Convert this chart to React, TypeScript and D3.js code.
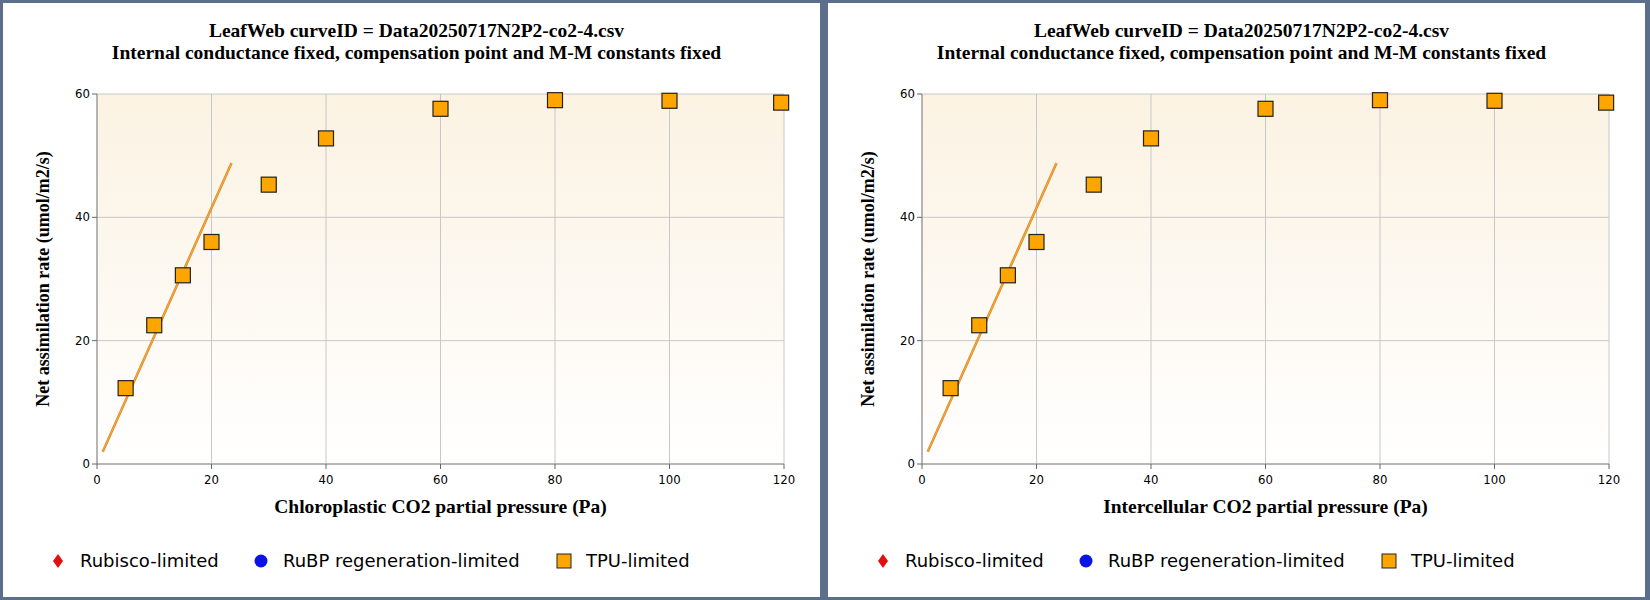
import React from 'react';
import * as d3 from 'd3';

const xValues = [5, 10, 15, 20, 30, 40, 60, 80, 100, 119.5];
const yValues = [12.3, 22.5, 30.6, 36.0, 45.3, 52.8, 57.6, 59.0, 58.9, 58.6];
const lineX = [1, 23.5];
const lineY = [2, 48.8];
const xTicks = [0, 20, 40, 60, 80, 100, 120];
const yTicks = [0, 20, 40, 60];
const xTitles = ['Chloroplastic CO2 partial pressure (Pa)', 'Intercellular CO2 partial pressure (Pa)'];
const titleLines = ['LeafWeb curveID = Data20250717N2P2-co2-4.csv', 'Internal conductance fixed, compensation point and M-M constants fixed'];
const legendItems = ['Rubisco-limited', 'RuBP regeneration-limited', 'TPU-limited'];

const W = 1650, H = 600;
const panelW = 823;
const margin = { left: 97, right: 39, top: 94, bottom: 136 };

const Panel: React.FC<{ idx: number }> = ({ idx }) => {
  const ox = idx === 0 ? 0 : 825;
  const x = d3.scaleLinear().domain([0, 120]).range([margin.left, panelW - margin.right]);
  const y = d3.scaleLinear().domain([0, 60]).range([H - margin.bottom, margin.top]);
  const [x0, x1] = x.range();
  const [y0, y1] = y.range();
  const gid = `bg${idx}`;
  const line = d3.line<number>().x((_, i) => x(lineX[i])).y((_, i) => y(lineY[i]));
  const tickFont = '"Liberation Sans Narrow", "Arial Narrow", "DejaVu Sans Condensed", sans-serif';
  const legendX = [58, 261, 564];
  return (
    <g transform={`translate(${ox},0)`}>
      <defs>
        <linearGradient id={gid} x1="0" y1="0" x2="0" y2="1">
          <stop offset="0" stopColor="#fbf2e2" />
          <stop offset="1" stopColor="#ffffff" />
        </linearGradient>
      </defs>
      <rect x={1.5} y={1.5} width={panelW - 3} height={H - 3} fill="#fff" stroke="#5b6e8a" strokeWidth={3} />
      {titleLines.map((t, i) => (
        <text key={i} x={panelW / 2 + 5} y={37 + i * 22} textAnchor="middle" fontFamily="Liberation Serif, serif" fontWeight="bold" fontSize={19.5}>{t}</text>
      ))}
      <rect x={x0} y={y1} width={x1 - x0} height={y0 - y1} fill={`url(#${gid})`} />
      {xTicks.map(t => (
        <line key={'gx' + t} x1={x(t)} x2={x(t)} y1={y1} y2={y0} stroke="#c8c8c8" strokeWidth={1} />
      ))}
      {yTicks.map(t => (
        <line key={'gy' + t} x1={x0} x2={x1} y1={y(t)} y2={y(t)} stroke="#c8c8c8" strokeWidth={1} />
      ))}
      <line x1={x0} x2={x1} y1={y0} y2={y0} stroke="#888" />
      <line x1={x0} x2={x0} y1={y1} y2={y0} stroke="#888" />
      {xTicks.map(t => (
        <g key={'tx' + t}>
          <line x1={x(t)} x2={x(t)} y1={y0} y2={y0 + 5} stroke="#666" />
          <text x={x(t)} y={y0 + 20} textAnchor="middle" fontFamily={tickFont} fontSize={13}>{t}</text>
        </g>
      ))}
      {yTicks.map(t => (
        <g key={'ty' + t}>
          <line x1={x0 - 5} x2={x0} y1={y(t)} y2={y(t)} stroke="#666" />
          <text x={x0 - 7} y={y(t) + 4} textAnchor="end" fontFamily={tickFont} fontSize={13}>{t}</text>
        </g>
      ))}
      <text x={(x0 + x1) / 2} y={y0 + 49} textAnchor="middle" fontFamily="Liberation Serif, serif" fontWeight="bold" fontSize={19.5}>{xTitles[idx]}</text>
      <text transform={`translate(49,${(y0 + y1) / 2}) rotate(-90)`} textAnchor="middle" fontFamily="Liberation Serif, serif" fontWeight="bold" fontSize={18}>Net assimilation rate (umol/m2/s)</text>
      <path d={line([0, 1]) || ''} stroke="#e0891c" strokeWidth={2.5} fill="none" />
      <path d={line([0, 1]) || ''} stroke="#f6b45a" strokeWidth={0.8} fill="none" />
      {xValues.map((v, i) => (
        <rect key={'p' + i} x={x(v) - 7.5} y={y(yValues[i]) - 7.5} width={15} height={15} fill="#ffa500" stroke="#222" strokeWidth={1.2} />
      ))}
      <path d={`M${legendX[0]},${554}l5,7l-5,7l-5,-7z`} fill="#e01010" />
      <circle cx={legendX[1]} cy={561} r={6.5} fill="#0a14e6" />
      <rect x={legendX[2] - 7} y={554} width={14} height={14} fill="#ffa500" stroke="#222" />
      {legendItems.map((t, i) => (
        <text key={t} x={legendX[i] + 22} y={567} fontFamily="DejaVu Sans, Verdana, sans-serif" fontSize={18}>{t}</text>
      ))}
    </g>
  );
};

export default function App() {
  return (
    <svg width={W} height={H} style={{ position: 'absolute', left: 0, top: 0 }}>
      <rect width={W} height={H} fill="#5b6e8a" />
      <Panel idx={0} />
      <Panel idx={1} />
    </svg>
  );
}
